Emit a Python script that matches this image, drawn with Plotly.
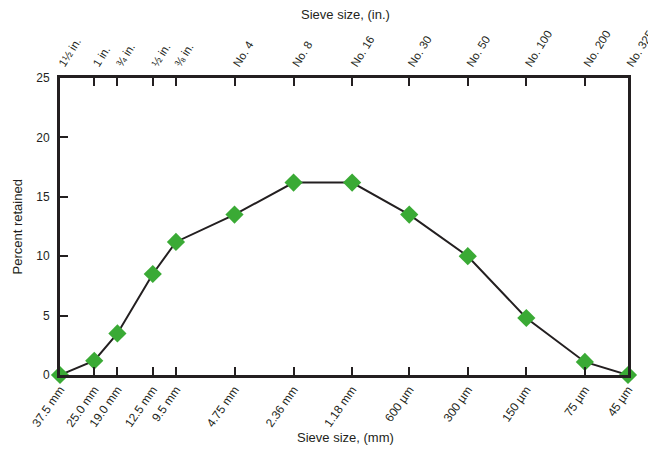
import math
import plotly.graph_objects as go

sieve_mm = [37.5, 25.0, 19.0, 12.5, 9.5, 4.75, 2.36, 1.18, 0.6, 0.3, 0.15, 0.075, 0.045]
mm_labels = ["37.5 mm", "25.0 mm", "19.0 mm", "12.5 mm", "9.5 mm", "4.75 mm", "2.36 mm",
             "1.18 mm", "600 µm", "300 µm", "150 µm", "75 µm", "45 µm"]
in_labels = ["1½ in.", "1 in.", "¾ in.", "½ in.", "⅜ in.", "No. 4", "No. 8",
             "No. 16", "No. 30", "No. 50", "No. 100", "No. 200", "No. 325"]
percent_retained = [0, 1.2, 3.5, 8.5, 11.2, 13.5, 16.2, 16.2, 13.5, 10.0, 4.8, 1.1, 0]

FONT = "Liberation Sans Narrow, Liberation Sans, Arial, sans-serif"
eps = 1e-6
xr = [math.log10(max(sieve_mm)) + eps, math.log10(min(sieve_mm)) - eps]

fig = go.Figure()
fig.add_trace(go.Scatter(
    x=sieve_mm, y=percent_retained, mode="lines+markers",
    line=dict(color="#231f20", width=2),
    marker=dict(symbol="diamond", size=14, color="#3aaa35"),
    cliponaxis=False, showlegend=False,
))
fig.add_trace(go.Scatter(x=sieve_mm, y=percent_retained, xaxis="x2", mode="markers",
                         marker=dict(opacity=0), showlegend=False, hoverinfo="skip"))

axis_common = dict(showgrid=False, zeroline=False, showline=True, linecolor="#231f20",
                   linewidth=3, ticks="inside", ticklen=8, tickwidth=2, tickcolor="#231f20",
                   automargin=False, ticklabeloverflow="allow")

tick_font = dict(family=FONT, size=12, color="#231f20")
title_font = dict(family=FONT, size=13, color="#231f20")

fig.update_layout(
    width=648, height=442, autosize=False,
    margin=dict(l=52, r=28, t=70, b=75),
    paper_bgcolor="white", plot_bgcolor="white",
    font=dict(family=FONT, size=12, color="#231f20"),
    xaxis=dict(type="log", range=xr, tickvals=sieve_mm, ticktext=mm_labels,
               tickangle=-55, mirror=False, tickfont=tick_font, **axis_common),
    xaxis2=dict(type="log", range=xr, overlaying="x", side="top", tickvals=sieve_mm,
                ticktext=in_labels, tickangle=-58,
                tickfont=dict(family=FONT, size=11.5, color="#231f20"), **axis_common),
    yaxis=dict(range=[0, 25], tickvals=[0, 5, 10, 15, 20, 25], mirror=True,
               tickfont=tick_font, ticklabelstandoff=5, **axis_common),
    annotations=[
        dict(text="Sieve size, (in.)", xref="paper", yref="paper", x=0.502, y=1.215,
             showarrow=False, xanchor="center", yanchor="middle", font=title_font),
        dict(text="Sieve size, (mm)", xref="paper", yref="paper", x=0.502, y=-0.209,
             showarrow=False, xanchor="center", yanchor="middle", font=title_font),
        dict(text="Percent retained", xref="paper", yref="paper", x=-0.074, y=0.5,
             textangle=-90, showarrow=False, xanchor="center", yanchor="middle", font=title_font),
    ],
)

fig.write_html("out.html")
